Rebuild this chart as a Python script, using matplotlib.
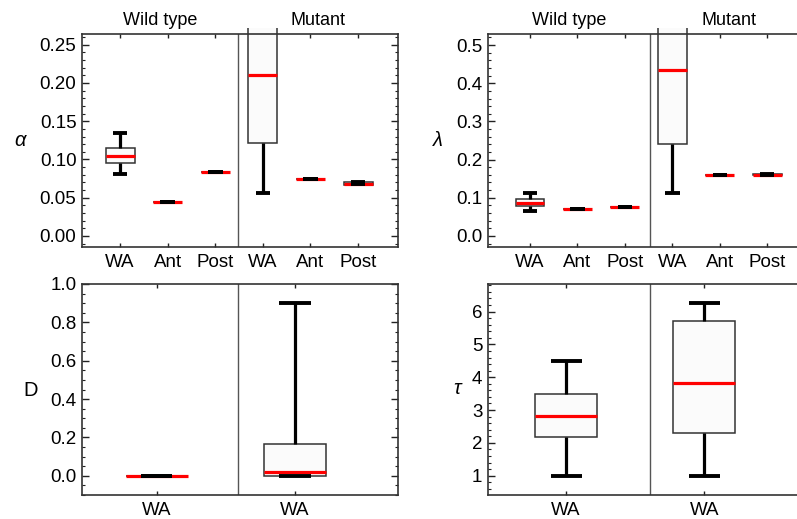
import matplotlib
matplotlib.use("Agg")
import matplotlib.pyplot as plt
from matplotlib.patches import Rectangle
from matplotlib.ticker import MultipleLocator, FixedLocator, FormatStrFormatter

plt.rcParams['font.family'] = ['Liberation Sans', 'DejaVu Sans']

# ---------------- data ----------------
groups = ["Wild type", "Mutant"]
cats_top = ["WA", "Ant", "Post", "WA", "Ant", "Post"]
cats_bottom = ["WA", "WA"]

# box stats: (whislo, q1, med, q3, whishi)
alpha_stats = [
    (0.081, 0.095, 0.1045, 0.1155, 0.135),
    (0.044, 0.044, 0.044, 0.044, 0.044),
    (0.083, 0.083, 0.083, 0.083, 0.083),
    (0.056, 0.121, 0.210, 0.300, 0.340),
    (0.074, 0.074, 0.074, 0.074, 0.074),
    (0.0675, 0.0670, 0.0685, 0.0700, 0.0700),
]
lambda_stats = [
    (0.066, 0.0785, 0.087, 0.096, 0.112),
    (0.070, 0.070, 0.070, 0.070, 0.070),
    (0.075, 0.075, 0.075, 0.075, 0.075),
    (0.112, 0.241, 0.435, 0.600, 0.700),
    (0.160, 0.160, 0.160, 0.160, 0.160),
    (0.160, 0.159, 0.160, 0.162, 0.162),
]
D_stats = [
    (0.0, 0.0, 0.0, 0.0, 0.0),
    (-0.003, 0.0, 0.018, 0.165, 0.90),
]
tau_stats = [
    (1.0, 2.19, 2.82, 3.50, 4.48),
    (1.0, 2.31, 3.82, 5.71, 6.26),
]

W, H = 797, 519
fig = plt.figure(figsize=(W / 100, H / 100), dpi=100)


def px_axes(l, t, r, b):
    return fig.add_axes([l / W, 1 - b / H, (r - l) / W, (b - t) / H])


def draw_panel(ax, stats, cats, xlim, divider, ylim, major, minor, width,
               ylabel, ylabel_px, show_right, group_labels=False, clip_top=False):
    positions = list(range(1, len(stats) + 1))
    bxstats = []
    for s, lab in zip(stats, cats):
        lo, q1, med, q3, hi = s
        bxstats.append(dict(whislo=lo, q1=q1, med=med, q3=q3, whishi=hi,
                            label=lab, fliers=[]))
    art = ax.bxp(bxstats, positions=positions, widths=width,
                 capwidths=width * 0.5, patch_artist=True, showfliers=False,
                 boxprops=dict(facecolor="#fbfbfb", edgecolor="#333333", linewidth=1.1),
                 whiskerprops=dict(color="black", linewidth=2.3, solid_capstyle="butt"),
                 capprops=dict(color="black", linewidth=2.8, solid_capstyle="butt", zorder=4),
                 medianprops=dict(color="#ff0000", linewidth=2.3, solid_capstyle="butt", zorder=3))
    ax.set_xlim(*xlim)
    ax.set_ylim(*ylim)
    if clip_top:
        clip = Rectangle((0, 0), 1, 1.03, transform=ax.transAxes,
                         facecolor="none", edgecolor="none")
        fig.add_artist(clip)
        clip.set_visible(False)
        for key in ("boxes", "whiskers", "caps", "medians"):
            for a in art[key]:
                a.set_clip_path(clip)
    ax.axvline(divider, color="#555555", linewidth=1.0, zorder=1)
    ax.yaxis.set_major_locator(MultipleLocator(major))
    ax.yaxis.set_minor_locator(MultipleLocator(minor))
    ax.xaxis.set_major_locator(FixedLocator(positions))
    ax.set_xticklabels(cats)
    ax.tick_params(axis="both", which="both", direction="in", labelsize=13.5,
                   colors="#222222", labelcolor="black")
    ax.tick_params(axis="y", which="major", length=5, width=1.0, right=show_right, pad=4)
    ax.tick_params(axis="y", which="minor", length=2.5, width=0.8, right=show_right)
    ax.tick_params(axis="x", which="major", length=3, width=1.0, top=True, pad=5)
    for sp in ax.spines.values():
        sp.set_color("#333333")
        sp.set_linewidth(1.2)
    if not show_right:
        ax.spines["right"].set_visible(False)
    fig.text(ylabel_px[0] / W, 1 - ylabel_px[1] / H, ylabel, fontsize=14.5,
             ha="center", va="center",
             style="italic" if ylabel != "D" else "normal")
    if group_labels:
        centers = [(xlim[0] + divider) / 2, (divider + xlim[1]) / 2]
        for c, g in zip(centers, groups):
            ax.text(c, 1.025, g, transform=ax.get_xaxis_transform(),
                    ha="center", va="bottom", fontsize=13)


ax1 = px_axes(82, 34, 398, 247)
draw_panel(ax1, alpha_stats, cats_top, (0.20, 6.84), 3.48, (-0.0144, 0.264),
           0.05, 0.01, 0.61, "α", (20, 140), True, group_labels=True, clip_top=True)
ax1.yaxis.set_major_formatter(FormatStrFormatter("%.2f"))

ax2 = px_axes(488, 34, 808, 247)
draw_panel(ax2, lambda_stats, cats_top, (0.114, 6.86), 3.53, (-0.029, 0.529),
           0.1, 0.02, 0.61, "λ", (438, 140), False, group_labels=True, clip_top=True)
ax2.yaxis.set_major_formatter(FormatStrFormatter("%.1f"))

ax3 = px_axes(82, 284, 398, 495)
draw_panel(ax3, D_stats, cats_bottom, (0.457, 2.746), 1.587, (-0.1, 1.0),
           0.2, 0.05, 0.45, "D", (31, 390), True)
ax3.yaxis.set_major_formatter(FormatStrFormatter("%.1f"))

ax4 = px_axes(488, 284, 808, 495)
draw_panel(ax4, tau_stats, cats_bottom, (0.435, 2.75), 1.609, (0.41, 6.84),
           1, 0.2, 0.45, "τ", (457, 388), False)

fig.savefig("out.png", dpi=100)
